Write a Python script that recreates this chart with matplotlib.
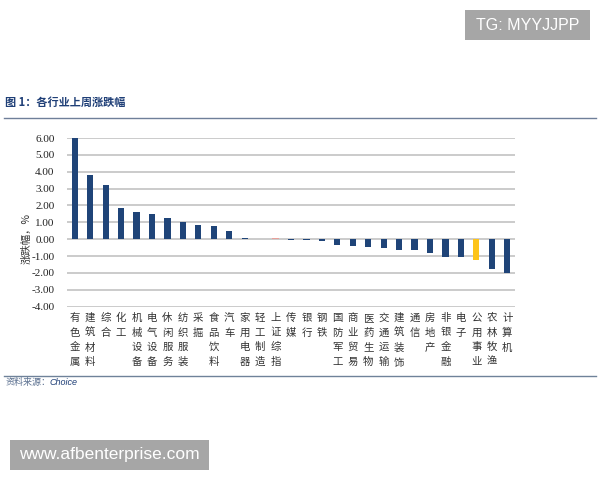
import numpy as np
import matplotlib.pyplot as plt
from matplotlib.patches import Rectangle
from matplotlib.lines import Line2D

plt.rcParams['font.family'] = ['Noto Sans CJK SC', 'DejaVu Sans']

labels = ['有色金属','建筑材料','综合','化工','机械设备','电气设备','休闲服务','纺织服装','采掘','食品饮料',
          '汽车','家用电器','轻工制造','上证综指','传媒','银行','钢铁','国防军工','商业贸易','医药生物',
          '交通运输','建筑装饰','通信','房地产','非银金融','电子','公用事业','农林牧渔','计算机']
values = [6.0,3.78,3.2,1.85,1.62,1.47,1.25,1.05,0.87,0.76,
          0.5,0.1,0.01,0.05,-0.06,-0.07,-0.1,-0.35,-0.4,-0.47,
          -0.53,-0.65,-0.65,-0.82,-1.03,-1.07,-1.26,-1.74,-2.0]
yticks = [6,5,4,3,2,1,0,-1,-2,-3,-4]

W, H = 600, 480
fig = plt.figure(figsize=(6, 4.8), dpi=100)
ax = fig.add_axes([67/W, 1-306.7/H, 448/W, 168.7/H])

ind = np.arange(len(values))
colors = ['#1f4478'] * len(values)
colors[13] = '#e8a09a'
colors[26] = '#fdc41a'
ax.bar(ind, values, 0.4, color=colors, zorder=3)

ax.set_xlim(-0.5, len(values)-0.5)
ax.set_ylim(-4, 6)
ax.set_axisbelow(True)
ax.yaxis.grid(True, color='#bdbdbd', linewidth=1.1)
ax.set_yticks(yticks)
ax.set_yticklabels(['%.2f' % v for v in yticks], family='Liberation Serif', fontsize=8, color='#222222')
ax.tick_params(axis='y', length=0, pad=9)
ax.set_xticks([])
for s in ax.spines.values():
    s.set_visible(False)

# vertical category names, one char per line
for i, name in enumerate(labels):
    ax.annotate('\n'.join(name), (i, -4), xytext=(0, -4.5), textcoords='offset points',
                ha='center', va='top', fontsize=7.5, color='#333333', linespacing=1.58)

fig.text(27/W, 1-238/H, '涨跌幅，%', rotation=90, ha='center', va='center', fontsize=7.5, color='#333333')

# title, rules, source
fig.text(5/W, 1-102/H, '图 1：各行业上周涨跌幅', ha='left', va='center', fontsize=8, fontweight='bold', color='#1f3f77')
fig.add_artist(Line2D([4/W, 596/W], [1-117.7/H]*2, color='#6f7f99', lw=1.0))
fig.add_artist(Line2D([4/W, 596/W], [1-375.7/H]*2, color='#6f8299', lw=1.0))
fig.text(6/W, 1-382.5/H, '资料来源：', ha='left', va='center', fontsize=6.5, style='italic', color='#5a6f8f')
fig.text(50/W, 1-382.5/H, 'Choice', ha='left', va='center', fontsize=6.5, style='italic',
         family='Liberation Sans', color='#1f3f77')

# watermark boxes
fig.add_artist(Rectangle((465/W, 1-40/H), 125/W, 30/H, transform=fig.transFigure, color='#a6a6a6', lw=0))
fig.text(527.5/W, 1-25/H, 'TG: MYYJJPP', ha='center', va='center', fontsize=11.5, family='Liberation Sans', color='white')
fig.add_artist(Rectangle((10/W, 1-470/H), 199/W, 30/H, transform=fig.transFigure, color='#a6a6a6', lw=0))
fig.text(109.5/W, 1-455/H, 'www.afbenterprise.com', ha='center', va='center', fontsize=12.5, family='Liberation Sans', color='white')

fig.savefig('out.png', dpi=100)
